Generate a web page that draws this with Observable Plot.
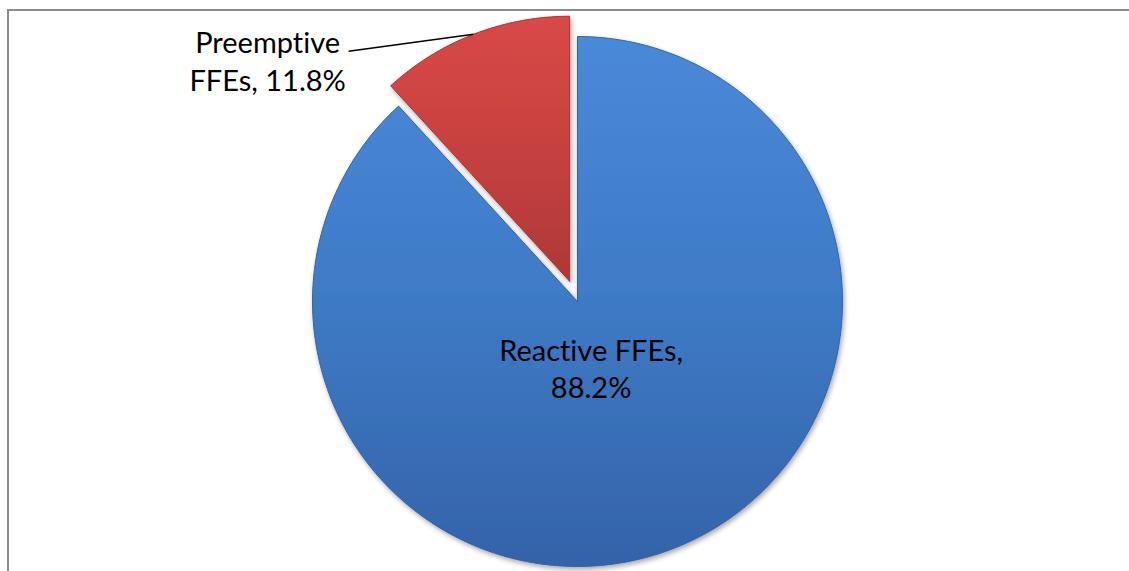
<!DOCTYPE html>
<html>
<head>
<meta charset="utf-8">
<script src="https://cdn.jsdelivr.net/npm/d3@7"></script>
<script src="https://cdn.jsdelivr.net/npm/@observablehq/plot@0.6"></script>
<style>
  html, body { margin: 0; padding: 0; background: #fff; overflow: hidden; }
  #wrap { position: relative; width: 1129px; height: 571px; }
  #frame { position: absolute; left: 7px; top: 9px; right: 0; bottom: 0;
           border-top: 2px solid #8c8c8c; border-left: 2px solid #8c8c8c; pointer-events: none; }
  .slice path { filter: url(#shadow); }
  svg text { font-variant-ligatures: none; font-feature-settings: "liga" 0, "clig" 0; }
</style>
</head>
<body>
<div id="wrap"><div id="frame"></div></div>
<script>
// ---- data ----
const categories = ["Reactive FFEs", "Preemptive FFEs"];
const shares = [88.2, 11.8];
const labelLines = [["Reactive FFEs,", "88.2%"], ["Preemptive", "FFEs, 11.8%"]];
const explode = [0, 0.082];

// ---- layout ----
const W = 1129, H = 571;
const cx = 577, cy = 301, R = 265;

const arcs = d3.pie().sort(null).value(d => d)(shares);
const slices = arcs.map((a, i) => {
  const mid = (a.startAngle + a.endAngle) / 2;
  const ox = explode[i] * Math.sin(mid), oy = explode[i] * Math.cos(mid);
  const pts = [{x: ox, y: oy}];
  const n = Math.max(8, Math.ceil((a.endAngle - a.startAngle) / 0.01));
  for (let k = 0; k <= n; k++) {
    const t = a.startAngle + (a.endAngle - a.startAngle) * k / n;
    pts.push({x: ox + Math.sin(t), y: oy + Math.cos(t)});
  }
  pts.push({x: ox, y: oy});
  return {name: categories[i], value: shares[i], mid, ox, oy, pts};
});

const fills = ["url(#gradBlue)", "url(#gradRed)"];
const strokes = ["#3462a3", "#a33331"];

// label for the large slice (inside)
const big = slices[0];
const inLabel = [{
  x: big.ox + 0.267 * Math.sin(big.mid),
  y: big.oy + 0.267 * Math.cos(big.mid),
  text: labelLines[0].join("\n")
}];
// label for the small slice (outside with leader line)
const small = slices[1];
const la = small.mid - 0.37, lr = 1.28;
const leader = [{
  x1: lr * Math.sin(la), y1: lr * Math.cos(la),
  x2: small.ox + Math.sin(small.mid), y2: small.oy + Math.cos(small.mid)
}];
const outLabel = [{x: leader[0].x1, y: leader[0].y1, text: labelLines[1].join("\n")}];

const marks = slices.map((s, i) =>
  Plot.line(s.pts, {x: "x", y: "y", fill: fills[i], stroke: strokes[i], strokeWidth: 1, curve: "linear", className: "slice"})
);
marks.push(
  Plot.link(leader, {x1: "x1", y1: "y1", x2: "x2", y2: "y2", stroke: "#000", strokeWidth: 1.5}),
  Plot.text(inLabel, {x: "x", y: "y", text: "text", dx: -12, lineHeight: 1.27, fontSize: 29,
    fontFamily: "Lato", fill: "#000", textAnchor: "middle", lineAnchor: "middle"}),
  Plot.text(outLabel, {x: "x", y: "y", text: "text", dx: -81, dy: 9, lineHeight: 1.3, fontSize: 29,
    fontFamily: "Lato", fill: "#000", textAnchor: "middle", lineAnchor: "middle"})
);

const chart = Plot.plot({
  width: W, height: H, margin: 0,
  x: {domain: [-cx / R, (W - cx) / R], axis: null},
  y: {domain: [-(H - cy) / R, cy / R], axis: null},
  style: {background: "transparent", overflow: "visible"},
  marks
});

const defs = `
<defs>
  <linearGradient id="gradBlue" x1="0" y1="0" x2="0" y2="1">
    <stop offset="0" stop-color="#4a89d8"/>
    <stop offset="0.5" stop-color="#3e7ac6"/>
    <stop offset="1" stop-color="#3463a9"/>
  </linearGradient>
  <linearGradient id="gradRed" x1="0" y1="0" x2="0" y2="1">
    <stop offset="0" stop-color="#d94848"/>
    <stop offset="0.5" stop-color="#c74140"/>
    <stop offset="1" stop-color="#ad3836"/>
  </linearGradient>
  <filter id="shadow" x="-10%" y="-10%" width="120%" height="120%">
    <feDropShadow dx="1.5" dy="2.5" stdDeviation="2.5" flood-color="#000" flood-opacity="0.35"/>
  </filter>
</defs>`;
chart.insertAdjacentHTML("afterbegin", defs);
chart.style.position = "absolute";
chart.style.left = "0"; chart.style.top = "0";
document.getElementById("wrap").prepend(chart);
</script>
</body>
</html>
